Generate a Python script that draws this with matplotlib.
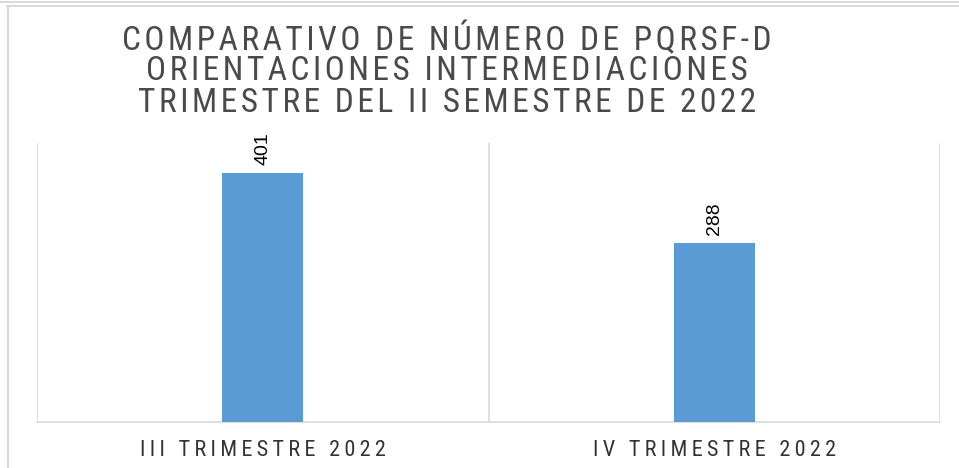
import matplotlib
matplotlib.use("Agg")
import matplotlib.pyplot as plt
from matplotlib.lines import Line2D
from matplotlib import font_manager as fm

categories = ["III TRIMESTRE 2022", "IV TRIMESTRE 2022"]
values = [401, 288]
title_lines = ["COMPARATIVO DE NÚMERO DE PQRSF-D",
               "ORIENTACIONES INTERMEDIACIONES",
               "TRIMESTRE DEL II SEMESTRE DE 2022"]

# find a condensed / narrow family if installed
names = {f.name for f in fm.fontManager.ttflist}
narrow = None
for cand in ["Liberation Sans Narrow", "DejaVu Sans Condensed", "Roboto Condensed",
             "Open Sans Condensed", "Noto Sans Condensed", "Arial Narrow"]:
    if cand in names:
        narrow = cand
        break
NARROW = [narrow, "DejaVu Sans"] if narrow else ["DejaVu Sans"]

def spaced(s, sep="\u200a"):
    return sep.join(s)

W, H = 959, 468
fig = plt.figure(figsize=(W / 100, H / 100), dpi=100)
fig.patch.set_facecolor("white")

ax = fig.add_axes([37 / W, (H - 422) / H, 903 / W, 279 / H])
x = list(range(len(categories)))
bars = ax.bar(x, values, width=0.18, color="#5B9BD5", zorder=3)
ax.set_xlim(-0.5, len(categories) - 0.5)
ax.set_ylim(0, 450)
ax.set_yticks([])
ax.set_xticks(x)
ax.set_xticklabels([spaced(c, "\u2009") for c in categories],
                   family=NARROW, fontsize=16 if narrow else 14, color="#333333")
ax.tick_params(axis="x", length=0, pad=13)
for s in ["top", "left", "right"]:
    ax.spines[s].set_visible(False)
ax.spines["bottom"].set_color("#d9d9d9")
ax.spines["bottom"].set_linewidth(1.2)
for b in [-0.5, 0.5, 1.5]:
    ax.axvline(b, color="#d9d9d9", lw=1.2, zorder=1)

for xi, v in zip(x, values):
    ax.annotate(str(v), (xi, v), xytext=(0, 6), textcoords="offset points",
                rotation=90, ha="center", va="bottom",
                family=["Liberation Sans", "DejaVu Sans"], fontsize=14, color="#000000")

for i, line in enumerate(title_lines):
    fig.text(447 / W, 1 - (40 + 31.5 * i) / H, spaced(line, "\u200a"),
             ha="center", va="center",
             family=NARROW, fontsize=24 if narrow else 20, color="#4a4a4a",
             fontweight="normal")

# outer frame lines
fc = "#d9d9d9"
fig.add_artist(Line2D([0, 1], [1 - 1.5 / H, 1 - 1.5 / H], transform=fig.transFigure, color=fc, lw=1.5))
fig.add_artist(Line2D([7 / W, 1], [1 - 5.5 / H, 1 - 5.5 / H], transform=fig.transFigure, color=fc, lw=1.5))
fig.add_artist(Line2D([7.5 / W, 7.5 / W], [0, 1 - 5.5 / H], transform=fig.transFigure, color=fc, lw=1.5))

fig.savefig("out.png", dpi=100, facecolor="white")
